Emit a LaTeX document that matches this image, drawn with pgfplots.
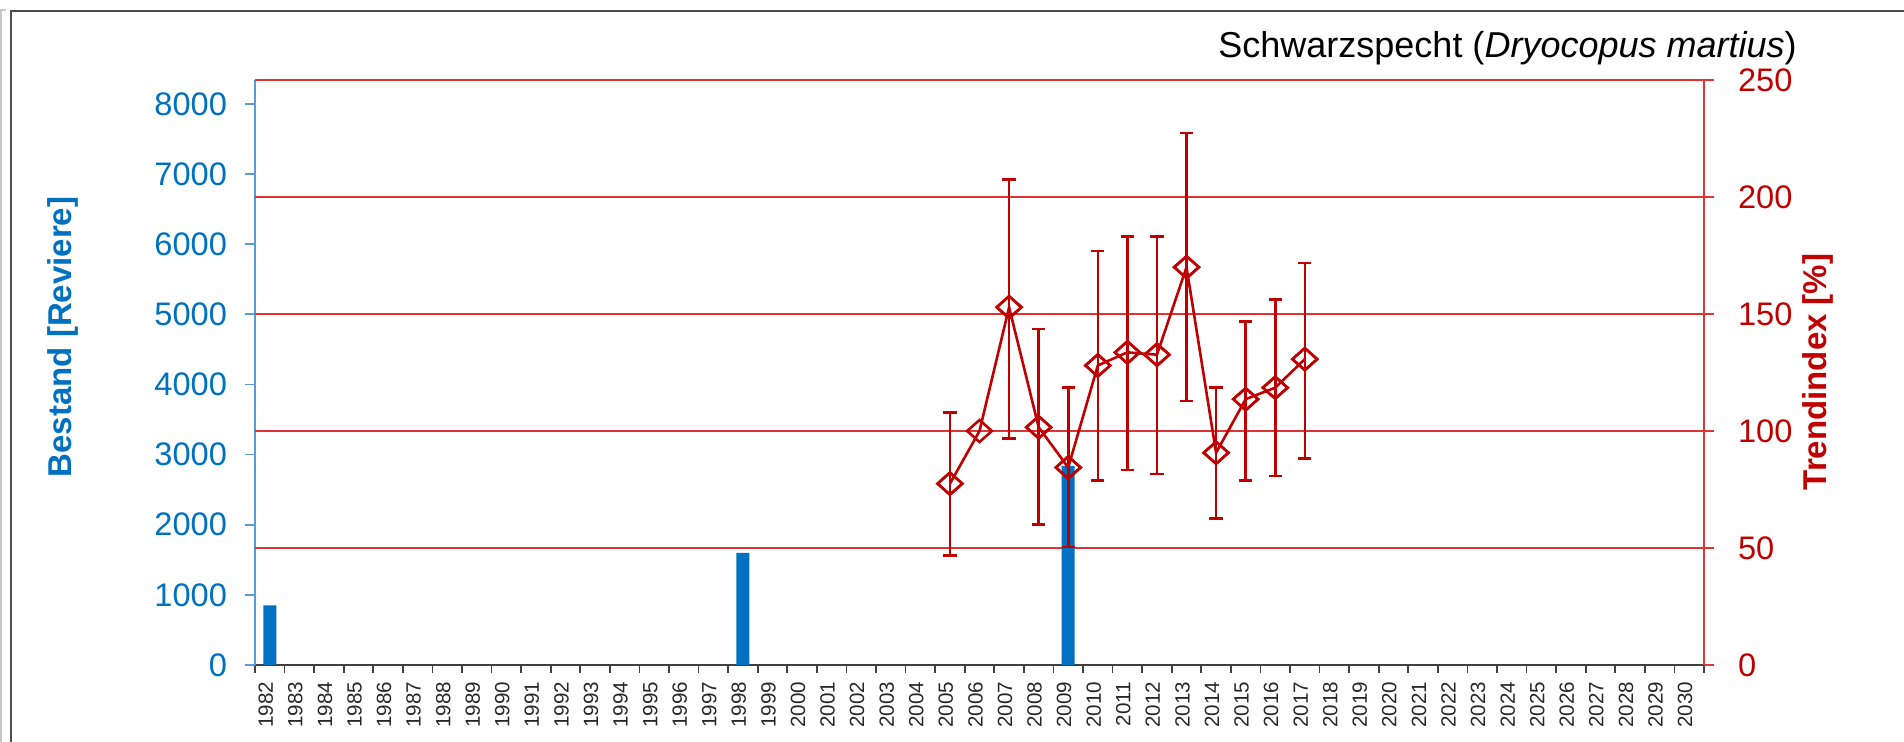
\documentclass[border=0pt]{standalone}
\usepackage{pgfplots}
\pgfplotsset{compat=1.18}
\usepackage{fontspec}
\setmainfont{Liberation Sans}
\definecolor{tblue}{RGB}{0,112,192}
\definecolor{lblue}{RGB}{91,155,213}
\definecolor{tred}{RGB}{192,0,0}
\definecolor{gridred}{RGB}{224,52,52}
\definecolor{axgray}{RGB}{64,64,64}
\begin{document}
\begin{tikzpicture}
\useasboundingbox (0,0) rectangle (952pt,371pt);
% frame
\draw[gray!45, line width=1.2pt] (0.6pt,0) -- (0.6pt,366pt);
\draw[gray!45, line width=0.8pt] (0,366pt) -- (3pt,366pt);
\draw[black!70, line width=1pt] (5.5pt,0) -- (5.5pt,365.5pt) -- (952pt,365.5pt);
% left axis with bars
\begin{axis}[
  at={(127.5pt,38.5pt)}, anchor=south west,
  scale only axis, width=724.5pt, height=292.5pt,
  xmin=1981.5, xmax=2030.5, ymin=0, ymax=8340,
  axis x line*=bottom, axis y line*=left,
  x axis line style={draw=axgray, line width=0.8pt, -},
  y axis line style={draw=lblue, line width=0.8pt, -},
  tick align=outside, major tick length=5pt, minor tick length=4pt,
  ytick={0,1000,...,8000},
  xtick={1982,...,2030},
  minor xtick={1981.5,1982.5,...,2030.5},
  major x tick style={draw=none},
  minor x tick style={draw=axgray, line width=0.8pt},
  y tick style={draw=lblue, line width=0.8pt},
  yticklabel style={font=\fontsize{16.3}{19}\selectfont, text=tblue, xshift=-5.5pt},
  xticklabel style={font=\fontsize{10.3}{12}\selectfont, text=black!85, rotate=90, anchor=east, yshift=2pt},
  extra y ticks={1668,3336,5004,6672,8340},
  extra y tick labels={},
  extra y tick style={grid=major, major tick length=0pt},
  major grid style={draw=gridred, line width=0.9pt},
  /pgf/number format/.cd, 1000 sep={}, assume math mode=true,
]
\addplot[ybar, bar width=6.5pt, fill=tblue, draw=none] coordinates {
 (1982,850) (1998,1600) (2009,2840)
};
\end{axis}
% right axis with trend index
\begin{axis}[
  at={(127.5pt,38.5pt)}, anchor=south west,
  scale only axis, width=724.5pt, height=292.5pt,
  xmin=1981.5, xmax=2030.5, ymin=0, ymax=250,
  axis x line=none, axis y line*=right,
  y axis line style={draw=gridred, line width=0.8pt, -},
  tick align=outside, major tick length=5pt,
  ytick={0,50,...,250},
  y tick style={draw=gridred, line width=0.8pt},
  yticklabel style={font=\fontsize{16.3}{19}\selectfont, text=tred, xshift=8.5pt},
  clip=false,
  /pgf/number format/.cd, assume math mode=true,
]
\addplot[tred, only marks, line width=1.3pt, mark=diamond, mark size=5.5pt,
  mark options={xscale=1.5, solid, fill=none, line width=1.3pt},
  error bars/.cd, y dir=both, y explicit,
  error bar style={draw=tred, line width=1.3pt},
  error mark options={draw=tred, mark size=3.3pt, line width=1.3pt, rotate=90}] coordinates {
 (2005,77.5) += (0,30.4) -= (0,30.6)
 (2007,152.9) += (0,54.6) -= (0,56.0)
 (2008,101.6) += (0,42.0) -= (0,41.6)
 (2009,84.4) += (0,34.1) -= (0,33.9)
 (2010,128.0) += (0,48.9) -= (0,49.1)
 (2011,133.6) += (0,49.5) -= (0,50.3)
 (2012,132.6) += (0,50.5) -= (0,51.0)
 (2013,170.0) += (0,57.4) -= (0,57.2)
 (2014,90.7) += (0,27.8) -= (0,28.2)
 (2015,113.6) += (0,33.1) -= (0,34.7)
 (2016,118.5) += (0,37.6) -= (0,37.7)
 (2017,130.7) += (0,41.1) -= (0,42.5)
};
\addplot[tred, line width=1.3pt, mark=diamond, mark size=5.5pt,
  mark options={xscale=1.5, solid, fill=none, line width=1.3pt}] coordinates {
 (2005,77.5) (2006,100.0) (2007,152.9) (2008,101.6) (2009,84.4) (2010,128.0)
 (2011,133.6) (2012,132.6) (2013,170.0) (2014,90.7) (2015,113.6) (2016,118.5)
 (2017,130.7)
};
\end{axis}
% labels and title
\node[rotate=90, font=\fontsize{16.5}{20}\selectfont\bfseries, text=tblue] at (31.5pt,202.5pt) {Bestand [Reviere]};
\node[rotate=90, font=\fontsize{16.5}{20}\selectfont\bfseries, text=tred] at (909pt,185pt) {Trendindex [\%]};
\node[anchor=base east, font=\fontsize{18}{22}\selectfont, inner sep=0pt] at (898.5pt,342pt) {Schwarzspecht (\textit{Dryocopus martius})};
\end{tikzpicture}
\end{document}
